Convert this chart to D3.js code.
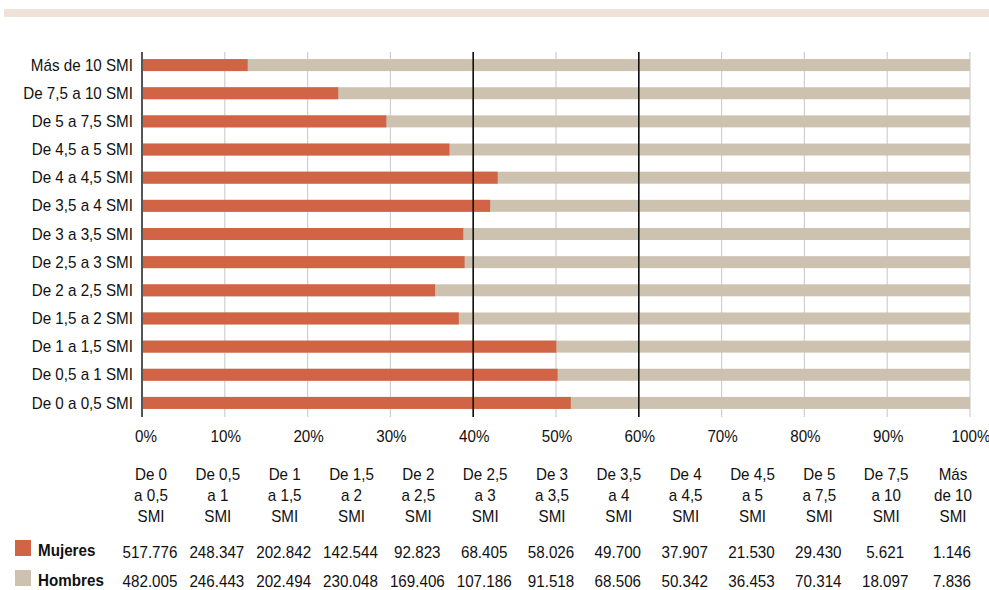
<!DOCTYPE html>
<html>
<head>
<meta charset="utf-8">
<script src="https://cdn.jsdelivr.net/npm/d3@7/dist/d3.min.js"></script>
<style>
  html, body { margin: 0; padding: 0; background: #fff; }
  svg text { font-family: "Liberation Sans", Arial, sans-serif; fill: #111; }
</style>
</head>
<body>
<svg id="chart" width="989" height="590"></svg>
<script>
// Wage bands (multiples of the minimum wage), lowest first
const categories = [
  "De 0 a 0,5 SMI", "De 0,5 a 1 SMI", "De 1 a 1,5 SMI", "De 1,5 a 2 SMI",
  "De 2 a 2,5 SMI", "De 2,5 a 3 SMI", "De 3 a 3,5 SMI", "De 3,5 a 4 SMI",
  "De 4 a 4,5 SMI", "De 4,5 a 5 SMI", "De 5 a 7,5 SMI", "De 7,5 a 10 SMI",
  "Más de 10 SMI"
];
// Same bands, split over three lines for the table header
const columnLabels = [
  ["De 0", "a 0,5", "SMI"], ["De 0,5", "a 1", "SMI"], ["De 1", "a 1,5", "SMI"],
  ["De 1,5", "a 2", "SMI"], ["De 2", "a 2,5", "SMI"], ["De 2,5", "a 3", "SMI"],
  ["De 3", "a 3,5", "SMI"], ["De 3,5", "a 4", "SMI"], ["De 4", "a 4,5", "SMI"],
  ["De 4,5", "a 5", "SMI"], ["De 5", "a 7,5", "SMI"], ["De 7,5", "a 10", "SMI"],
  ["Más", "de 10", "SMI"]
];
const mujeres = [517776, 248347, 202842, 142544, 92823, 68405, 58026, 49700, 37907, 21530, 29430, 5621, 1146];
const hombres = [482005, 246443, 202494, 230048, 169406, 107186, 91518, 68506, 50342, 36453, 70314, 18097, 7836];
const tickValues = [0, 0.1, 0.2, 0.3, 0.4, 0.5, 0.6, 0.7, 0.8, 0.9, 1];
const tickLabels = ["0%", "10%", "20%", "30%", "40%", "50%", "60%", "70%", "80%", "90%", "100%"];
const refLines = [0.4, 0.6];

(function () {
  const COLOR_M = "#d06445";
  const COLOR_H = "#cdc2b0";
  const SX = 0.95; // slight horizontal squeeze applied to all text

  const svg = d3.select("#chart");
  const es = d3.formatLocale({ decimal: ",", thousands: ".", grouping: [3], currency: ["", ""] });
  const fmt = es.format(",d");

  function label(g, px, py, str, anchor, opts = {}) {
    return g.append("text")
      .attr("transform", `translate(${px},${py}) scale(${SX},1)`)
      .attr("text-anchor", anchor)
      .attr("font-size", opts.size || 16)
      .attr("font-weight", opts.weight || "normal")
      .attr("dominant-baseline", opts.baseline || "auto")
      .text(str);
  }

  // Decorative header band
  svg.append("rect").attr("x", 4).attr("y", 9).attr("width", 985).attr("height", 8).attr("fill", "#f0e2d6");

  const pl = 142, pr = 970, pt = 51, pb = 417;
  const x = d3.scaleLinear().domain([0, 1]).range([pl, pr]);
  const y = d3.scaleBand().domain(categories.slice().reverse()).range([pt, pb])
    .paddingInner(0.574).paddingOuter(0.287);

  const rows = categories.map((c, i) => {
    const tot = mujeres[i] + hombres[i];
    return { cat: c, m: mujeres[i] / tot };
  });

  // Light gridlines behind bars
  svg.append("g").selectAll("line").data(tickValues.slice(1)).join("line")
    .attr("x1", d => x(d)).attr("x2", d => x(d))
    .attr("y1", 52).attr("y2", pb)
    .attr("stroke", "#cfcfcf").attr("stroke-width", 1.2);

  // Stacked 100% bars
  const bars = svg.append("g");
  bars.selectAll("rect.h").data(rows).join("rect").attr("class", "h")
    .attr("x", x(0)).attr("width", x(1) - x(0))
    .attr("y", d => y(d.cat)).attr("height", y.bandwidth())
    .attr("fill", COLOR_H);
  bars.selectAll("rect.m").data(rows).join("rect").attr("class", "m")
    .attr("x", x(0)).attr("width", d => x(d.m) - x(0))
    .attr("y", d => y(d.cat)).attr("height", y.bandwidth())
    .attr("fill", COLOR_M);

  // Reference lines at 40% and 60%
  svg.append("g").selectAll("line").data(refLines).join("line")
    .attr("x1", d => x(d)).attr("x2", d => x(d))
    .attr("y1", 52).attr("y2", pb)
    .attr("stroke", "#111").attr("stroke-width", 1.6);

  // Baseline at 0%
  svg.append("line").attr("x1", x(0)).attr("x2", x(0)).attr("y1", 52).attr("y2", pb)
    .attr("stroke", "#555").attr("stroke-width", 2);

  // Category labels
  const yl = svg.append("g");
  rows.forEach(d => label(yl, 133, y(d.cat) + y.bandwidth() / 2, d.cat, "end", { baseline: "central" }));

  // Percentage tick labels
  const xl = svg.append("g");
  tickValues.forEach((v, i) => label(xl, x(v) + (i === 0 ? 4 : 1), 442, tickLabels[i], "middle"));

  // Data table
  const colX = d3.scalePoint().domain(d3.range(categories.length)).range([151, 953]);
  const tbl = svg.append("g");
  columnLabels.forEach((lines, i) => {
    lines.forEach((t, j) => label(tbl, colX(i), 480 + j * 21, t, "middle"));
    label(tbl, colX(i) - 1, 558, fmt(mujeres[i]), "middle");
    label(tbl, colX(i) - 1, 587, fmt(hombres[i]), "middle");
  });

  // Legend rows
  const lg = svg.append("g");
  [["Mujeres", COLOR_M, 540], ["Hombres", COLOR_H, 570]].forEach(([name, col, yy]) => {
    lg.append("rect").attr("x", 15).attr("y", yy).attr("width", 16).attr("height", 16).attr("fill", col);
    label(lg, 38, yy + 15.5, name, "start", { weight: "bold" });
  });
})();
</script>
</body>
</html>
